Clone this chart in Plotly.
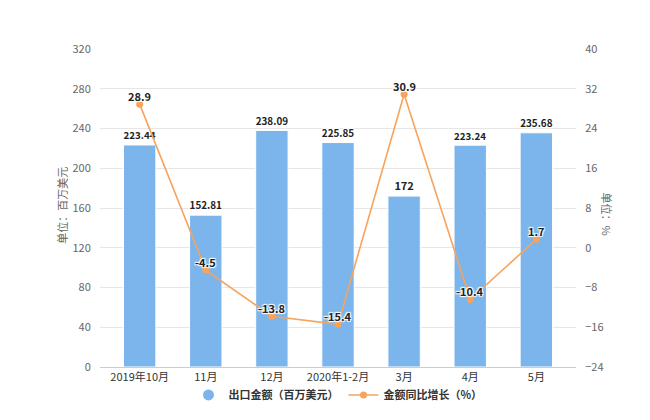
import plotly.graph_objects as go

categories = ["2019年10月", "11月", "12月", "2020年1-2月", "3月", "4月", "5月"]
export_values = [223.44, 152.81, 238.09, 225.85, 172, 223.24, 235.68]
growth_values = [28.9, -4.5, -13.8, -15.4, 30.9, -10.4, 1.7]
left_ticks = [0, 40, 80, 120, 160, 200, 240, 280, 320]
right_ticks = [-24, -16, -8, 0, 8, 16, 24, 32, 40]

FONT = "Noto Sans CJK SC, Noto Sans, sans-serif"
BAR = "#7cb5ec"
LINE = "#f7a35c"
x = list(range(len(categories)))
OUTLINE = "1px 1px 1px #fff, -1px -1px 1px #fff, 1px -1px 1px #fff, -1px 1px 1px #fff"

fig = go.Figure()
fig.add_trace(go.Bar(
    x=x, y=export_values, name="出口金额（百万美元）", showlegend=False,
    marker=dict(color=BAR, line=dict(color="white", width=1)),
    width=0.49,
    text=[f"{v:g}" for v in export_values], textposition="outside",
    textfont=dict(family=FONT, size=11, color="#222", weight="bold", shadow=OUTLINE),
    cliponaxis=False,
))
# legend proxy with circle symbol
fig.add_trace(go.Scatter(
    x=[None], y=[None], name="出口金额（百万美元）", mode="markers",
    marker=dict(color=BAR, size=11, symbol="circle"),
))
fig.add_trace(go.Scatter(
    x=x, y=growth_values, name="金额同比增长（%）", yaxis="y2",
    mode="lines+markers",
    line=dict(color=LINE, width=1.6),
    marker=dict(color=LINE, size=7),
))
for xi, v in zip(x, growth_values):
    fig.add_annotation(x=xi, y=v, xref="x", yref="y2", text=f"{v:g}", showarrow=False,
                       yshift=8, font=dict(family=FONT, size=11, color="#222", weight="bold",
                                           shadow=OUTLINE))

fig.add_annotation(text="单位：百万美元", xref="paper", yref="paper", x=-0.08, y=0.51,
                   xanchor="center", yanchor="middle", textangle=-90, showarrow=False,
                   font=dict(family=FONT, size=11, color="#666"))
fig.add_annotation(text="单位：%", xref="paper", yref="paper", x=1.065, y=0.48,
                   xanchor="center", yanchor="middle", textangle=90, showarrow=False,
                   font=dict(family=FONT, size=11, color="#666"))

fig.update_layout(
    width=650, height=420,
    margin=dict(l=92, r=82, t=41, b=61),
    paper_bgcolor="white", plot_bgcolor="white",
    font=dict(family=FONT, size=11, color="#666"),
    showlegend=True,
    legend=dict(orientation="h", x=0.5, xanchor="center", y=-0.088, yanchor="middle",
                bgcolor="rgba(0,0,0,0)",
                font=dict(family=FONT, size=11, color="#333", weight="bold"),
                itemsizing="trace", itemwidth=30),
    xaxis=dict(range=[-0.6, 6.6], tickvals=x, ticktext=categories, showgrid=False,
               showline=True, linecolor="#cccccc", linewidth=1, ticks="",
               tickfont=dict(family=FONT, size=11, color="#333"), zeroline=False),
    yaxis=dict(range=[0, 320], tickvals=left_ticks, showgrid=True, gridcolor="#e6e6e6",
               zeroline=False, tickfont=dict(family=FONT, size=11, color="#666"), ticklen=6,
               ticks="outside", tickcolor="white"),
    yaxis2=dict(range=[-24, 40], tickvals=right_ticks, overlaying="y", side="right",
                showgrid=False, zeroline=False, tickfont=dict(family=FONT, size=11, color="#666"),
                ticks="outside", tickcolor="white", ticklen=6),
)
fig.write_html("out.html")
